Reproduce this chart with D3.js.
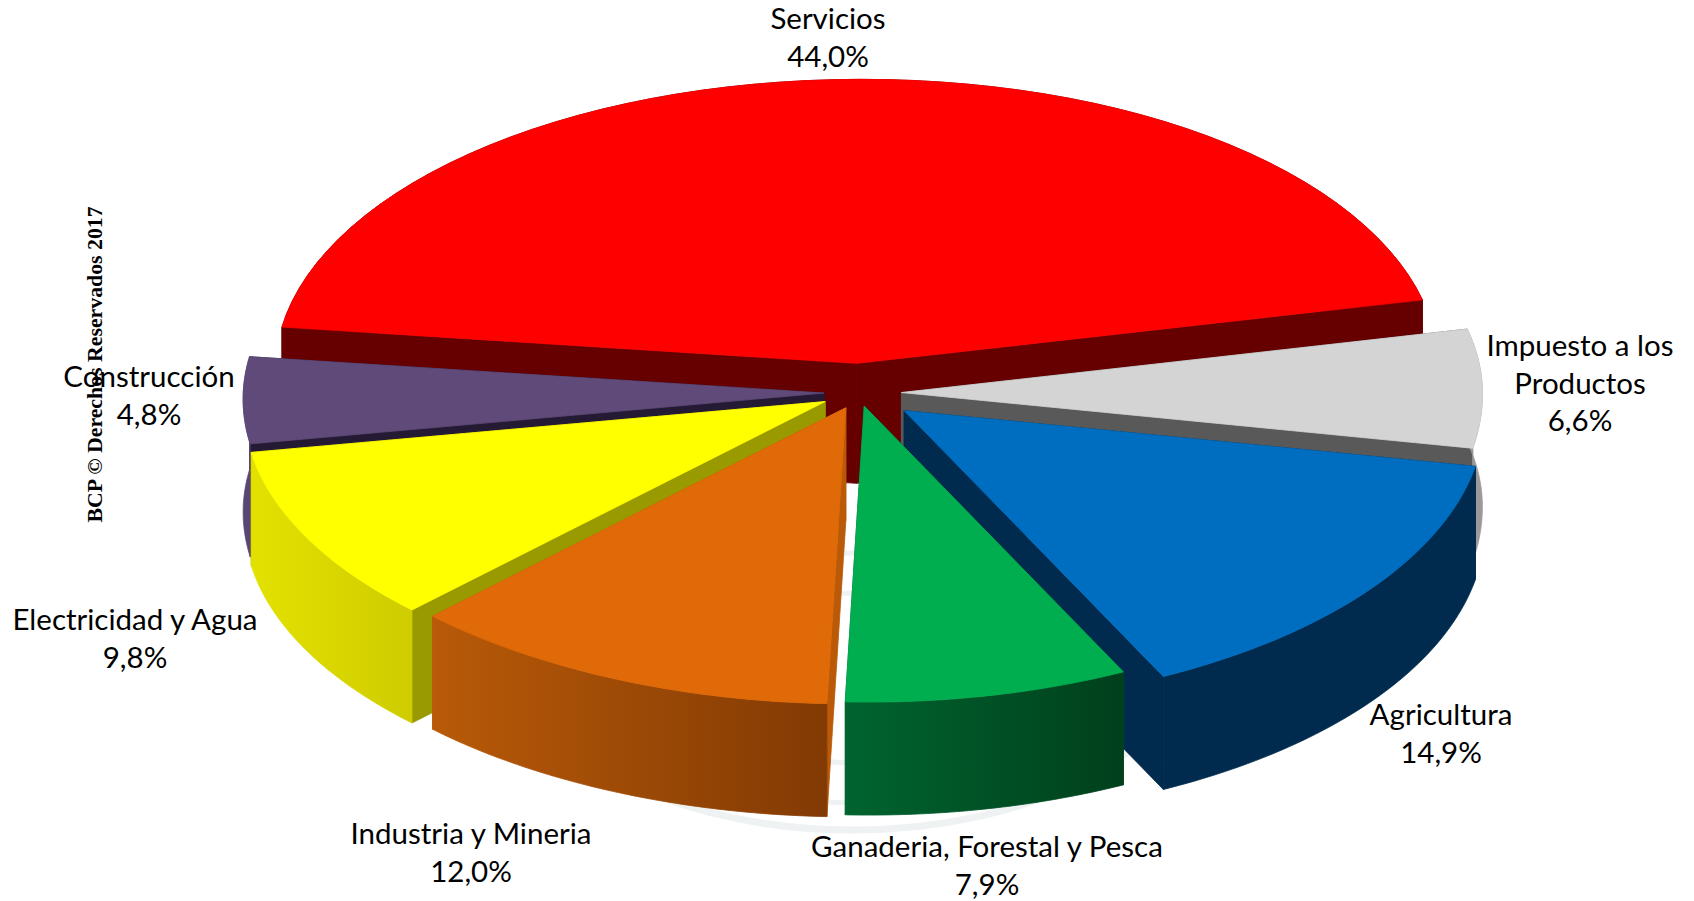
<!DOCTYPE html>
<html><head><meta charset="utf-8">
<script src="https://cdn.jsdelivr.net/npm/d3@7"></script>
<style>html,body{margin:0;padding:0;background:#fff}svg{display:block}</style>
</head><body><svg id="c" width="1694" height="901"></svg>
<script>
// ---- data ----
const categories = ["Servicios","Impuesto a los|Productos","Agricultura","Ganaderia, Forestal y Pesca","Industria y Mineria","Electricidad y Agua","Construcción"];
const shares = [44.0,6.6,14.9,7.9,12.0,9.8,4.8];
// ---- layout / style, separate from data ----
const explode = [0.1045,0.073,0.098,0.045,0.055,0.065,0.06];
const topColor = ["#ff0000","#d4d4d4","#006ec0","#00ae50","#e06908","#ffff00","#604a7a"];
const faceColor = ["#660000","#595959","#002b4e","#00582a","#ba5a08","#999900","#251a33"];
const wallLeft  = ["#660000","#9a9a9a","#002b4e","#00642f","#b85a08","#e3e100","#5a4674"];
const wallRight = ["#660000","#9a9a9a","#002b4e","#00401c","#823a04","#cfcc00","#5a4674"];
const paintOrder = [0,1,6,2,5,4,3];
const labelX = [828,1580,1441,987,471,135,149];
const labelY = [19,346,715,847,834,620,377];
const cx=859, cy=393, rx=581, ryBack=284, ryFront=296, lineH=37.5;
const rimSkew=0.03, rimTilt=-0.004, sideSag=3.5;
const depths=[120,113,113,113,113,113,113];
const fmt = d3.formatLocale({decimal:",",thousands:".",grouping:[3],currency:["",""]}).format(".1f");

const svg=d3.select("#c");
const defs=svg.append("defs");
const pie=d3.pie().value(d=>d).sort(null)
  .startAngle(-81.5*Math.PI/180).endAngle((360-81.5)*Math.PI/180);
const arcs=pie(shares);
const proj=(a,r)=>{const s=Math.sin(a)*r,c=-Math.cos(a)*r;return [s*rx,c*(c<0?ryBack:ryFront)];};
const rimPoint=a=>{
  const [x,y]=proj(a,1), front=Math.max(0,y)/ryFront, s=Math.sin(a);
  return [x+rimSkew*ryFront*front*front, y+rimTilt*x+sideSag*s*s*s*s];
};
const line=d3.line();

// faint watermark
const wm=svg.append("g").attr("fill","none").attr("stroke","#eef2f2");
wm.append("ellipse").attr("cx",853).attr("cy",640).attr("rx",340).attr("ry",190).attr("stroke-width",7);
wm.append("ellipse").attr("cx",853).attr("cy",678).attr("rx",200).attr("ry",125).attr("stroke-width",5);
wm.append("ellipse").attr("cx",853).attr("cy",678).attr("rx",140).attr("ry",85).attr("stroke-width",5);

const gs=svg.append("g");
paintOrder.forEach(i=>{
  const d=arcs[i], mid=(d.startAngle+d.endAngle)/2, h=depths[i];
  const [ox,oy]=proj(mid,explode[i]);
  const ax=cx+ox, ay=cy+oy;
  const steps=d3.range(0,61).map(k=>d.startAngle+(d.endAngle-d.startAngle)*k/60);
  const rim=steps.map(a=>{const p=rimPoint(a);return [ax+p[0],ay+p[1]];});
  const g=gs.append("g");
  const id="w"+i;
  const xs=d3.extent(rim,p=>p[0]);
  const gr=defs.append("linearGradient").attr("id",id).attr("gradientUnits","userSpaceOnUse")
    .attr("x1",xs[0]).attr("x2",xs[1]).attr("y1",0).attr("y2",0);
  gr.append("stop").attr("offset",0).attr("stop-color",wallLeft[i]);
  gr.append("stop").attr("offset",1).attr("stop-color",wallRight[i]);
  const first=rim[0], last=rim[rim.length-1];
  // radial end faces
  [first,last].forEach(p=>{
    g.append("path").attr("fill",faceColor[i]).attr("stroke",faceColor[i]).attr("stroke-width",0.8)
     .attr("d",line([[ax,ay],p,[p[0],p[1]+h],[ax,ay+h]])+"Z");
  });
  // outer wall
  const lower=rim.map(p=>[p[0],p[1]+h]).reverse();
  g.append("path").attr("fill",`url(#${id})`).attr("stroke",`url(#${id})`).attr("stroke-width",0.8)
   .attr("d",line(rim.concat(lower))+"Z");
  // top face
  g.append("path").attr("fill",topColor[i]).attr("stroke",topColor[i]).attr("stroke-width",0.8)
   .attr("d",line([[ax,ay]].concat(rim))+"Z");
});

// labels
const lab=svg.append("g").attr("font-family","Lato, 'Open Sans', sans-serif").attr("font-size",29.5)
  .attr("fill","#000").attr("text-anchor","middle");
categories.forEach((c,i)=>{
  const lines=c.split("|").concat(fmt(shares[i])+"%");
  lines.forEach((t,k)=>lab.append("text").attr("x",labelX[i]).attr("y",labelY[i]+k*lineH)
    .attr("dy","0.35em").text(t));
});
svg.append("text").attr("transform","translate(102,364.5) rotate(-90)").attr("text-anchor","middle")
  .attr("font-family","'Liberation Serif', serif").attr("font-weight","bold").attr("font-size",21.8)
  .attr("fill","#000").text("BCP © Derechos Reservados 2017");
</script></body></html>
